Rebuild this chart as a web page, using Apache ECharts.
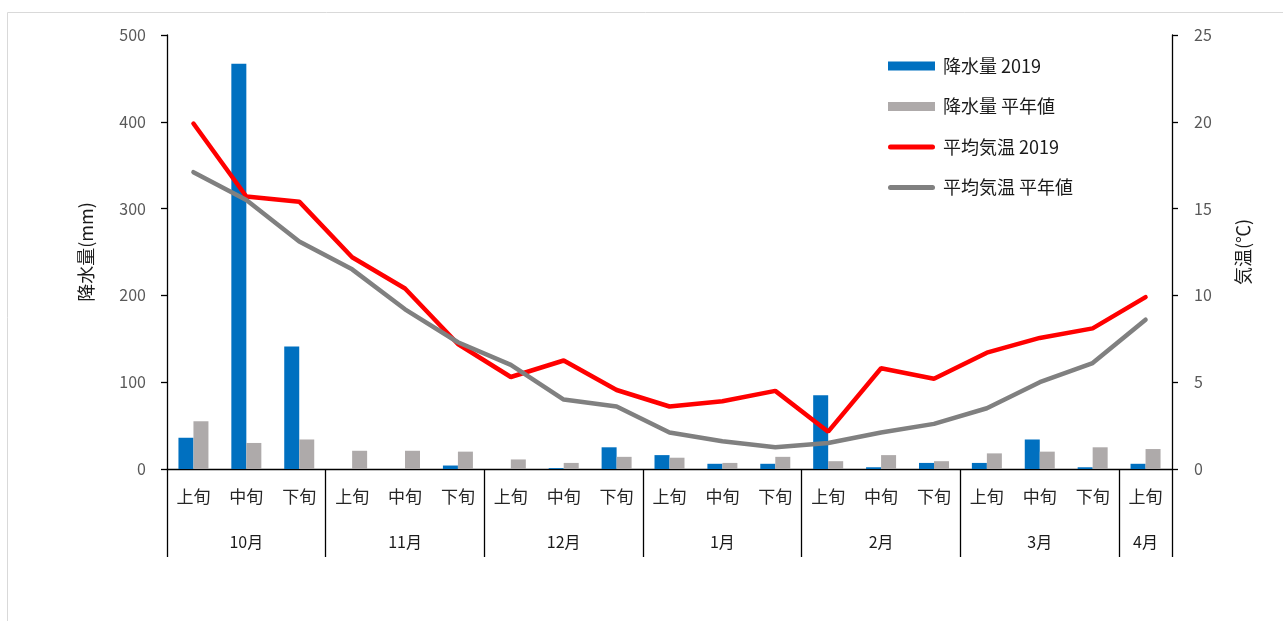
<!DOCTYPE html>
<html>
<head>
<meta charset="utf-8">
<script src="https://cdn.jsdelivr.net/npm/echarts@6/dist/echarts.min.js"></script>
<style>
  html, body { margin: 0; padding: 0; background: #fff; }
  #chart { width: 1283px; height: 621px; }
</style>
</head>
<body>
<div id="chart"></div>
<script>
// ====================================
// DATA
// ====================================
const junLabels = ['上旬', '中旬', '下旬', '上旬', '中旬', '下旬', '上旬', '中旬', '下旬',
  '上旬', '中旬', '下旬', '上旬', '中旬', '下旬', '上旬', '中旬', '下旬', '上旬'];
const monthLabels = ['10月', '11月', '12月', '1月', '2月', '3月', '4月'];
const monthSizes = [3, 3, 3, 3, 3, 3, 1];

const rain2019 = [36, 467, 141, 0, 0, 4, 0, 1, 25, 16, 6, 6, 85, 2, 7, 7, 34, 2, 6];
const rainNormal = [55, 30, 34, 21, 21, 20, 11, 7, 14, 13, 7, 14, 9, 16, 9, 18, 20, 25, 23];
const temp2019 = [19.9, 15.7, 15.4, 12.2, 10.4, 7.2, 5.3, 6.25, 4.55, 3.6, 3.9, 4.5, 2.15, 5.8, 5.2, 6.7, 7.55, 8.1, 9.9];
const tempNormal = [17.1, 15.5, 13.1, 11.5, 9.2, 7.3, 6.0, 4.0, 3.6, 2.1, 1.6, 1.25, 1.5, 2.1, 2.6, 3.5, 5.0, 6.1, 8.6];

const COLORS = {
  rain2019: '#0070C0',
  rainNormal: '#AEAAAA',
  temp2019: '#FF0000',
  tempNormal: '#808080',
  axis: '#000000',
  label: '#595959'
};
const FONT = '"Noto Sans CJK JP", "Noto Sans", sans-serif';
// rounded bar used as legend icon for the line series
const LINE_ICON = 'path://M2.5,0 L44.5,0 A2.5,2.5 0 0 1 44.5,5 L2.5,5 A2.5,2.5 0 0 1 2.5,0 Z';

// month boundaries / label positions on the category axis
const boundaryIdx = [];
const monthLabelAt = {};
let pos = 0;
monthSizes.forEach((n, i) => {
  boundaryIdx.push(pos);
  monthLabelAt[pos + Math.floor(n / 2)] = monthLabels[i];
  pos += n;
});

// ====================================
// CHART
// ====================================
const chart = echarts.init(document.getElementById('chart'));
chart.setOption({
  animation: false,
  textStyle: { fontFamily: FONT },
  graphic: [{
    type: 'rect',
    shape: { x: 7.5, y: 12.5, width: 1300, height: 700 },
    style: { fill: 'none', stroke: '#d9d9d9', lineWidth: 1 },
    silent: true
  }],
  legend: {
    orient: 'vertical',
    left: 883,
    top: 52,
    itemWidth: 47,
    itemHeight: 9,
    itemGap: 22.5,
    symbolKeepAspect: true,
    textStyle: { fontSize: 18, color: '#1a1a1a', fontFamily: FONT, padding: [0, 0, 0, 3] },
    data: [
      { name: '降水量 2019', icon: 'rect' },
      { name: '降水量 平年値', icon: 'rect' },
      { name: '平均気温 2019', icon: LINE_ICON },
      { name: '平均気温 平年値', icon: LINE_ICON }
    ]
  },
  grid: { left: 167, right: 111, top: 35, bottom: 152 },
  xAxis: [
    {
      type: 'category',
      data: junLabels,
      axisLine: { lineStyle: { color: COLORS.axis, width: 1.3 } },
      axisTick: { show: false },
      axisLabel: { interval: 0, margin: 19, fontSize: 17, color: '#262626' }
    },
    {
      type: 'category',
      data: junLabels,
      position: 'bottom',
      axisLine: { show: false },
      axisTick: {
        show: true,
        length: 88,
        interval: (idx) => boundaryIdx.includes(idx),
        lineStyle: { color: COLORS.axis, width: 1.3 }
      },
      axisLabel: {
        interval: 0,
        margin: 65,
        fontSize: 16,
        color: '#1a1a1a',
        formatter: (v, idx) => monthLabelAt[idx] || ''
      }
    }
  ],
  yAxis: [
    {
      type: 'value',
      min: 0, max: 500, interval: 100,
      name: '降水量(mm)',
      nameLocation: 'middle',
      nameGap: 72,
      nameTextStyle: { fontSize: 18, color: '#1a1a1a' },
      axisLine: { show: true, lineStyle: { color: COLORS.axis, width: 1.3 } },
      axisTick: { show: true, length: 6, lineStyle: { color: COLORS.axis, width: 1.3 } },
      axisLabel: { fontSize: 16, color: COLORS.label, margin: 21 },
      splitLine: { show: false }
    },
    {
      type: 'value',
      min: 0, max: 25, interval: 5,
      name: '気温(℃)',
      nameLocation: 'middle',
      nameGap: 62,
      nameTextStyle: { fontSize: 18, color: '#1a1a1a' },
      axisLine: { show: true, lineStyle: { color: COLORS.axis, width: 1.3 } },
      axisTick: { show: true, length: 6, lineStyle: { color: COLORS.axis, width: 1.3 } },
      axisLabel: { fontSize: 16, color: COLORS.label, margin: 22 },
      splitLine: { show: false }
    }
  ],
  series: [
    {
      name: '降水量 2019',
      type: 'bar',
      data: rain2019,
      barWidth: 15,
      barGap: '0%',
      itemStyle: { color: COLORS.rain2019 }
    },
    {
      name: '降水量 平年値',
      type: 'bar',
      data: rainNormal,
      barWidth: 15,
      barGap: '0%',
      itemStyle: { color: COLORS.rainNormal }
    },
    {
      name: '平均気温 2019',
      type: 'line',
      yAxisIndex: 1,
      data: temp2019,
      symbol: 'none',
      lineStyle: { color: COLORS.temp2019, width: 4.5, cap: 'round' },
      itemStyle: { color: COLORS.temp2019 }
    },
    {
      name: '平均気温 平年値',
      type: 'line',
      yAxisIndex: 1,
      data: tempNormal,
      symbol: 'none',
      lineStyle: { color: COLORS.tempNormal, width: 4.5, cap: 'round' },
      itemStyle: { color: COLORS.tempNormal }
    }
  ]
});
window.addEventListener('resize', () => chart.resize());
</script>
</body>
</html>
